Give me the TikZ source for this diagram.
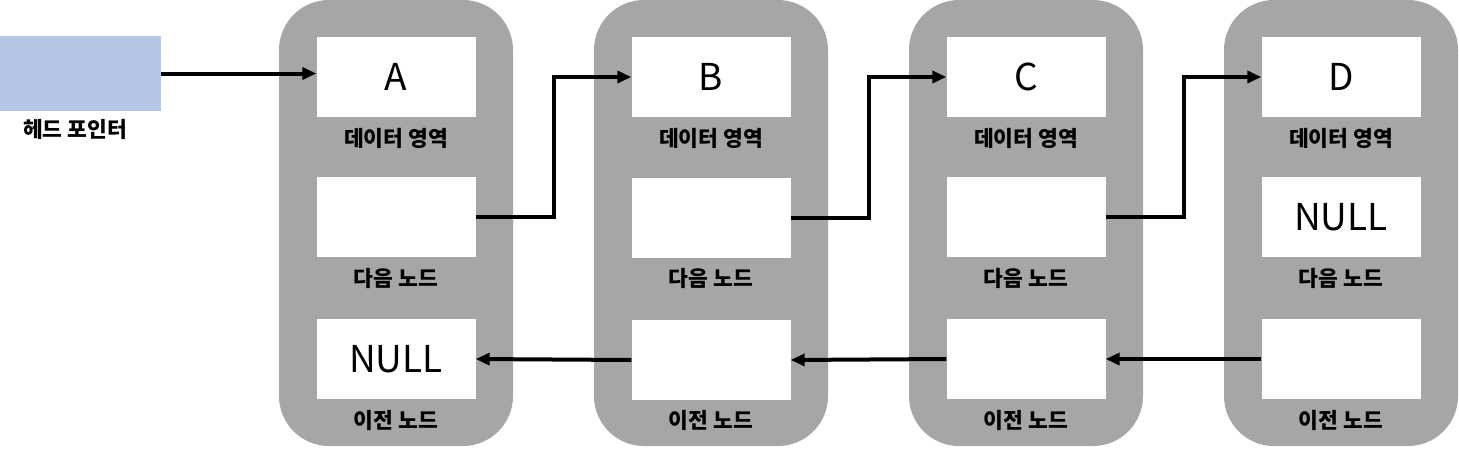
\documentclass[tikz,border=0pt]{standalone}
\usepackage{fontspec}
\setmainfont{Noto Sans CJK KR}
\usetikzlibrary{arrows.meta}
\definecolor{graybox}{HTML}{A6A6A6}
\definecolor{headblue}{HTML}{B4C7E7}
\tikzset{
  x=1pt, y=-1pt,
  gbox/.style={fill=graybox, draw=none, rounded corners=50pt, minimum width=234pt, minimum height=446pt, inner sep=0pt},
  wbox/.style={fill=white, draw=none, minimum width=159pt, minimum height=80pt, inner sep=0pt, font=\fontsize{37}{40}\selectfont},
  lbl/.style={inner sep=0pt, font=\fontsize{21.5}{24}\selectfont\bfseries},
  arr/.style={line width=4pt, -{Triangle[length=14pt,width=12pt]}},
}
\begin{document}
\begin{tikzpicture}
\useasboundingbox (0,0) rectangle (1459,448);
% head
\node[fill=headblue, minimum width=161pt, minimum height=75pt, inner sep=0pt] (head) at (80.5,73.5) {};
\node[lbl] (headl) at (75,129) {헤드 포인터};
% gray containers
\node[gbox] (g1) at (396,223) {};
\node[gbox] (g2) at (711,223) {};
\node[gbox] (g3) at (1026,223) {};
\node[gbox] (g4) at (1341,223) {};
% node 1
\node[wbox] (d1) at (396,77) {A};
\node[lbl] (d1l) at (396,138) {데이터 영역};
\node[wbox] (n1) at (396,217) {};
\node[lbl] (n1l) at (396,278) {다음 노드};
\node[wbox] (p1) at (396,359) {NULL};
\node[lbl] (p1l) at (396,420) {이전 노드};
% node 2
\node[wbox] (d2) at (711,77) {B};
\node[lbl] (d2l) at (711,138) {데이터 영역};
\node[wbox] (n2) at (711,218) {};
\node[lbl] (n2l) at (711,278) {다음 노드};
\node[wbox] (p2) at (711,360) {};
\node[lbl] (p2l) at (711,420) {이전 노드};
% node 3
\node[wbox] (d3) at (1026,77) {C};
\node[lbl] (d3l) at (1026,138) {데이터 영역};
\node[wbox] (n3) at (1026,217) {};
\node[lbl] (n3l) at (1026,278) {다음 노드};
\node[wbox] (p3) at (1026,359) {};
\node[lbl] (p3l) at (1026,420) {이전 노드};
% node 4
\node[wbox] (d4) at (1341,77) {D};
\node[lbl] (d4l) at (1341,138) {데이터 영역};
\node[wbox] (n4) at (1341,217) {NULL};
\node[lbl] (n4l) at (1341,278) {다음 노드};
\node[wbox] (p4) at (1341,359) {};
\node[lbl] (p4l) at (1341,420) {이전 노드};
% arrows
\draw[arr] (head.east) -- (head.east -| d1.west);
\draw[arr] (n1.east) -- ++(78,0) |- (d2.west);
\draw[arr] (n2.east) -- ++(78,0) |- (d3.west);
\draw[arr] (n3.east) -- ++(78,0) |- (d4.west);
\draw[arr] (p2.west) -- (p1.east);
\draw[arr] (p3.west) -- (p2.east);
\draw[arr] (p4.west) -- (p3.east);
\end{tikzpicture}
\end{document}
